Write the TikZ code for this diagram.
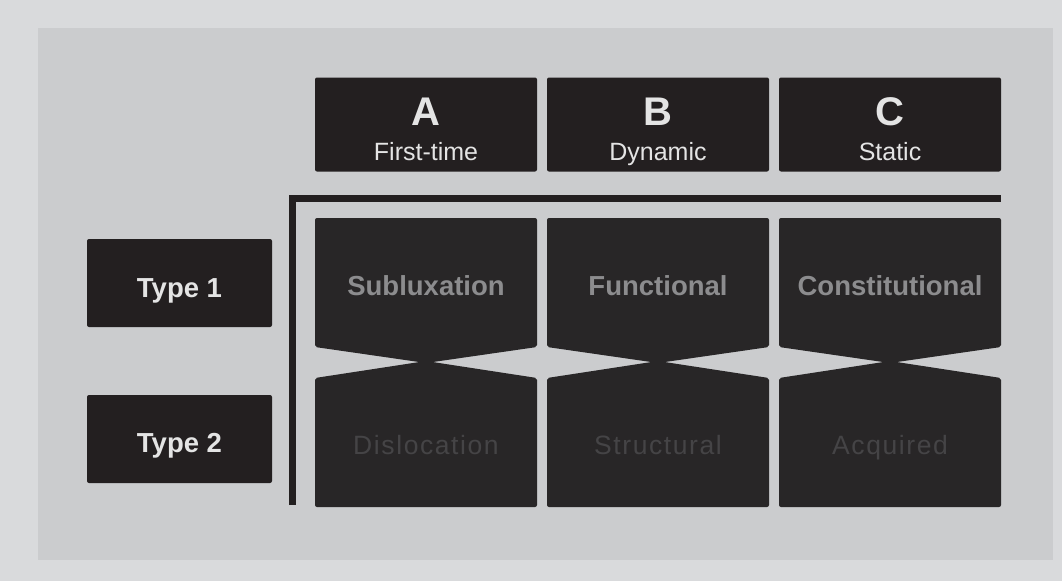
\documentclass[tikz,border=0pt]{standalone}
\usepackage{fontspec}
\setmainfont{Liberation Sans}
\newfontfamily\spacedfont[LetterSpace=6]{Liberation Sans}
\definecolor{outerbg}{HTML}{D9DADC}
\definecolor{panelbg}{HTML}{CBCCCE}
\definecolor{boxdark}{HTML}{231F20}
\definecolor{celldark}{HTML}{282627}
\definecolor{toptext}{HTML}{8C8C8E}
\definecolor{bottext}{HTML}{454446}
\definecolor{labeltext}{HTML}{E4E4E4}

\begin{document}
\begin{tikzpicture}[x=1pt, y=-1pt, every node/.style={inner sep=0pt},
  headbox/.style={fill=boxdark, rounded corners=2pt},
  headtext/.style={text=labeltext, anchor=base},
  celltop/.style={text=toptext, anchor=base, font=\fontsize{27.5}{27.5}\selectfont\bfseries},
  cellbot/.style={text=bottext, anchor=base, font=\fontsize{26.5}{26.5}\selectfont\spacedfont}]
	\useasboundingbox (0,0) rectangle (1062,581);
	\fill[outerbg] (0,0) rectangle (1062,581);
	\fill[panelbg] (38,28) rectangle (1053,560);
	% column heads
	\foreach \n/\x/\letter/\word in {A/426/A/First-time, B/658/B/Dynamic, C/890/C/Static} {
		\node[headbox, minimum width=222, minimum height=94] (head\n) at (\x,124.5) {};
		\node[headtext, font=\fontsize{40}{40}\selectfont\bfseries] (letter\n) at (\x,125) {\letter};
		\node[headtext, font=\fontsize{25}{25}\selectfont] (word\n) at (\x,160) {\word};
	}
	% row heads
	\node[headbox, minimum width=185, minimum height=88] (type1) at (179.5,283) {};
	\node[headtext, font=\fontsize{27.5}{27.5}\selectfont\bfseries] (type1text) at (179.5,297) {Type 1};
	\node[headbox, minimum width=185, minimum height=88] (type2) at (179.5,439) {};
	\node[headtext, font=\fontsize{27.5}{27.5}\selectfont\bfseries] (type2text) at (179.5,452) {Type 2};
	% bracket
	\draw[boxdark, line width=7] (292.5,505) |- (1001,198.5);
	% cells
	\foreach \x in {315,547,779} {
		\fill[celldark, rounded corners=2pt] (\x,218) -- (\x+222,218) -- (\x+222,347) -- (\x+111,363) -- (\x,347) -- cycle;
		\fill[celldark, rounded corners=2pt] (\x,378) -- (\x+111,361) -- (\x+222,378) -- (\x+222,507) -- (\x,507) -- cycle;
	}
	\node[celltop] (sub) at (426,295) {Subluxation};
	\node[celltop] (fun) at (658,295) {Functional};
	\node[celltop] (con) at (890,295) {Constitutional};
	\node[cellbot] (dis) at (426,454) {Dislocation};
	\node[cellbot] (str) at (658,454) {Structural};
	\node[cellbot] (acq) at (890,454) {Acquired};
\end{tikzpicture}
\end{document}
